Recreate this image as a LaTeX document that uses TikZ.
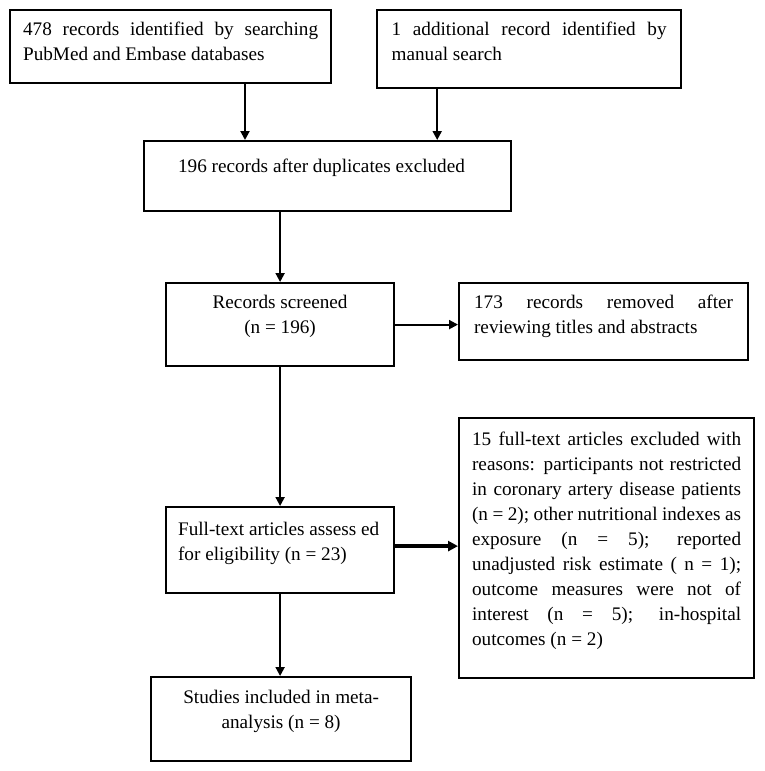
\documentclass[tikz,border=0pt]{standalone}
\usepackage{fontspec}
\setmainfont{Liberation Serif}
\usetikzlibrary{ arrows.meta, % For the triangle tips
                 positioning,
               }
\tikzstyle{box} = [rectangle, draw=black, line width=1.1pt, inner ysep=0pt,
                   anchor=north west, font=\fontsize{9.6}{12.5}\selectfont]
\tikzstyle{arrow} = [-{Triangle[length=4.5pt, width=4.5pt]}, line width=1pt]
\tikzstyle{bigarrow} = [-{Triangle[length=5pt, width=5pt]}, line width=1.7pt]
% height, width, top skip, text
\newcommand{\boxtext}[4]{\parbox[c][#1][t]{#2}{\vspace*{#3}#4}}

\begin{document}
\begin{tikzpicture}[x=0.5pt, y=-0.5pt]
  \useasboundingbox (0, 0) rectangle (765, 771);

  \node (search) [box, inner xsep=6.5pt] at (9, 9)
    {\boxtext{36.5pt}{147.5pt}{3.95pt}{\strut 478 records identified by searching\linebreak
     PubMed and Embase databases}};
  \node (manual) [box, inner xsep=7.25pt] at (376, 9)
    {\boxtext{39pt}{137.5pt}{3.95pt}{\strut 1 additional record identified by\linebreak
     manual search}};
  \node (dupl) [box, inner xsep=17pt] at (143, 140)
    {\boxtext{35pt}{149.5pt}{6.95pt}{\raggedright\strut 196 records after duplicates excluded}};

  \node (screen) [box, inner xsep=5pt] at (165, 282)
    {\boxtext{41.5pt}{104pt}{3.95pt}{\centering\strut Records screened\\ (n = 196)}};
  \node (removed) [box, inner xsep=7.5pt] at (458, 282)
    {\boxtext{38.5pt}{129.5pt}{3.95pt}{\strut 173 records removed after\linebreak
     reviewing titles and abstracts}};

  \node (full) [box, inner xsep=6pt] at (165, 506)
    {\boxtext{43pt}{102pt}{5.45pt}{\raggedright\strut Full-text articles assess ed\\
     for eligibility (n = 23)}};
  \node (excl) [box, inner xsep=6.5pt] at (458, 417)
    {\boxtext{130pt}{134.5pt}{4.95pt}{\strut 15 full-text articles excluded with\linebreak
     reasons: participants not restricted\linebreak
     in coronary artery disease patients\linebreak
     (n = 2); other nutritional indexes as\linebreak
     exposure (n = 5); reported\linebreak
     unadjusted risk estimate ( n = 1);\linebreak
     outcome measures were not of\linebreak
     interest (n = 5); in-hospital\linebreak
     outcomes (n = 2)}};

  \node (incl) [box, inner xsep=5pt] at (150, 676)
    {\boxtext{42pt}{120pt}{4.45pt}{\centering\strut Studies included in meta-\\
     analysis (n = 8)}};

  % where the two top arrows meet the box
  \coordinate (inA) at ([xshift=51pt]dupl.north west);
  \coordinate (inB) at ([xshift=-37.5pt]dupl.north east);
  \coordinate (outF) at ([yshift=2pt]full.east);

  \draw [arrow] (search.south -| inA) -- (inA);
  \draw [arrow] (manual.south -| inB) -- (inB);
  \draw [arrow] (dupl.south -| screen.north) -- (screen.north);
  \draw [arrow] (screen.east) -- (removed.west |- screen.east);
  \draw [arrow] (screen.south) -- (full.north);
  \draw [bigarrow] (outF) -- (excl.west |- outF);
  \draw [arrow] (full.south) -- (full.south |- incl.north);
\end{tikzpicture}
\end{document}
